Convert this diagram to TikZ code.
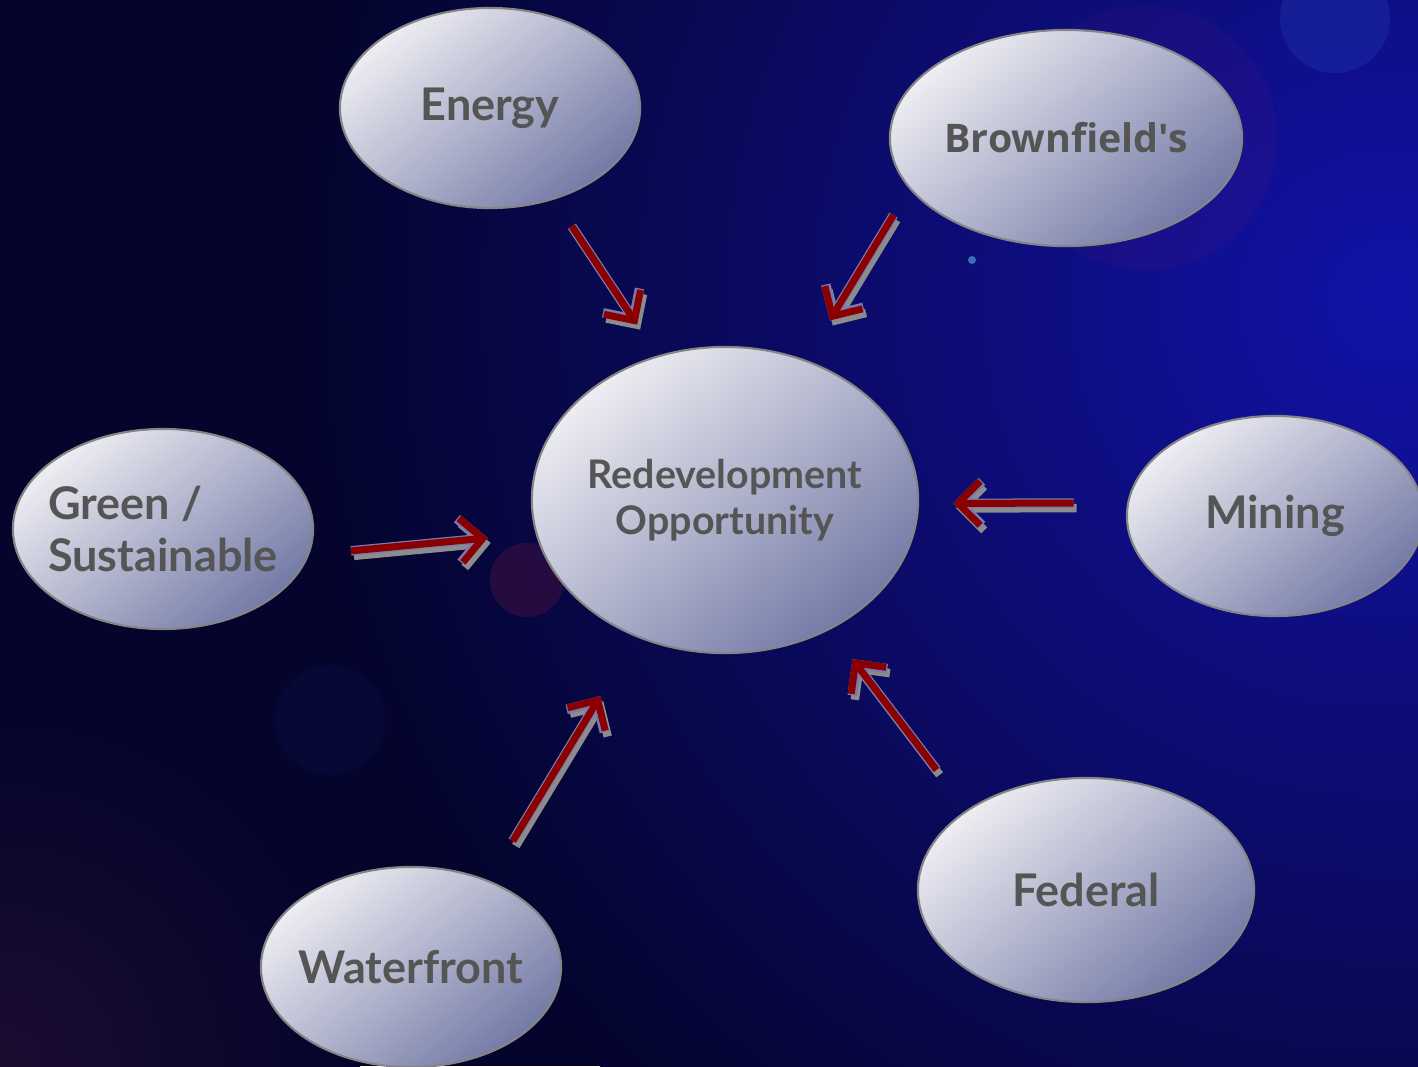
\documentclass[tikz,border=0pt]{standalone}
\usepackage{fontspec}
\setsansfont{Lato}
\newfontfamily\redevalt{Open Sans}
\usetikzlibrary{arrows.meta, backgrounds, calc, shapes.geometric}
\definecolor{redevnight}{HTML}{04042C}
\definecolor{redevglow}{HTML}{1212A8}
\definecolor{redevplum}{HTML}{1C0C30}
\definecolor{redevflare}{HTML}{5A1A7A}
\definecolor{redevember}{HTML}{6A1A40}
\definecolor{redevspot}{HTML}{2A4AC0}
\definecolor{redevink}{HTML}{555555}
\definecolor{redevrim}{HTML}{858585}
\definecolor{redevlight}{HTML}{EDEDF2}
\definecolor{redevdeep}{HTML}{737AA6}
\definecolor{redevred}{HTML}{8A0000}
\definecolor{redevhalo}{HTML}{7A7AB0}
\definecolor{redevshade}{HTML}{8C8C8C}
\newcommand{\RedevFont}{\sffamily\bfseries}
\newcommand{\redevfeed}[4]{%
  \draw[redev arrow shadow, shorten <=#3, shorten >=#4] (#1) -- (#2);
  \draw[redev arrow rim, shorten <=#3, shorten >=#4] (#1) -- (#2);
  \draw[redev arrow, shorten <=#3, shorten >=#4] (#1) -- (#2);}
\tikzset{
  redev bubble/.style={
    ellipse,
    draw=redevrim,
    line width=0.6pt,
    top color=redevlight,
    bottom color=redevdeep,
    shading angle=40,
    inner xsep=-4mm,
    inner ysep=0pt,
    align=center,
    text=redevink,
    minimum width=3cm,
    minimum height=2cm,
    font=\RedevFont\fontsize{12.8}{15}\selectfont
  },
  redev hub/.style={
    redev bubble,
    minimum width=3.86cm,
    minimum height=3.06cm,
    font=\RedevFont\fontsize{11.2}{13}\selectfont
  },
  redev arrow/.style={
    -{Straight Barb[length=2.2mm,width=4.4mm]},
    line width=0.7mm,
    draw=redevred
  },
  redev arrow rim/.style={redev arrow, line width=0.95mm, draw=redevhalo},
  redev arrow shadow/.style={redev arrow, line width=0.85mm, draw=redevshade,
    transform canvas={shift={(0.3mm,-0.5mm)}}}
}
\begin{document}
\begin{tikzpicture}[x=0.01cm,y=-0.01cm]
\useasboundingbox (0,0) rectangle (1418,1066);

% backdrop
\fill[redevnight] (0,0) rectangle (1418,1066);
\begin{scope}
  \clip (0,0) rectangle (1418,1066);
  \shade[inner color=redevglow, outer color=redevnight] (1390,300) circle (11cm);
  \shade[inner color=redevplum, outer color=redevnight] (0,1066) circle (3.6cm);
  \fill[redevflare, fill opacity=0.14] (1145,138) circle (1.32cm);
  \fill[redevspot, fill opacity=0.25] (1335,18) circle (0.55cm);
  \fill[redevember, fill opacity=0.3] (527,580) circle (0.37cm);
  \fill[redevspot, fill opacity=0.07] (330,720) circle (0.55cm);
  \fill[cyan!60, fill opacity=0.5] (972,260) circle (0.04cm);
\end{scope}

\node[redev hub] (redev) at (725,500) {Redevelopment\\Opportunity};
\node[redev bubble] (energy) at (490,108) {Energy};
\node[redev bubble, minimum width=3.52cm, minimum height=2.16cm,
  font=\redevalt\bfseries\fontsize{11.2}{14}\selectfont] (brown) at (1066,138) {Brownfield's};
\node[redev bubble, align=left] (green) at (163,529) {Green /\\Sustainable};
\node[redev bubble, minimum width=2.96cm] (mining) at (1275,516) {Mining};
\node[redev bubble, minimum width=3.36cm, minimum height=2.24cm] (federal) at (1086,890) {Federal};
\node[redev bubble] (water) at (411,967) {Waterfront};

\redevfeed{energy.-55}{redev.115}{3.2mm}{3.7mm}
\redevfeed{brown.198}{redev.60}{3.05mm}{4.6mm}
\redevfeed{green.-10}{redev.190}{4.2mm}{4.8mm}
\redevfeed{mining.175}{redev.-1}{5.35mm}{3.4mm}
\redevfeed{federal.146}{redev.-51}{5mm}{3.7mm}
\redevfeed{water.48}{redev.-123}{4.6mm}{6.9mm}
\end{tikzpicture}
\end{document}
